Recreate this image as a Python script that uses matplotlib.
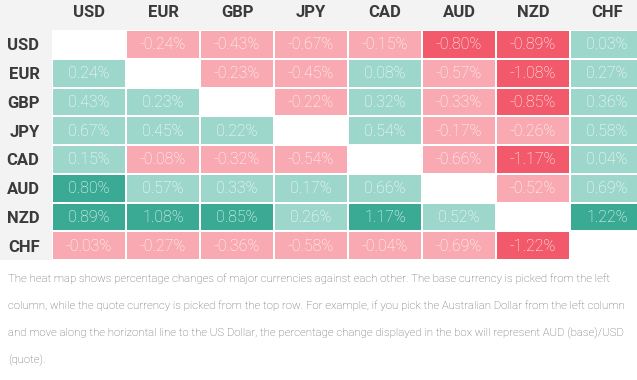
import numpy as np
import matplotlib
matplotlib.use("Agg")
import matplotlib.pyplot as plt
from matplotlib.colors import ListedColormap, BoundaryNorm
from matplotlib.patches import Rectangle

currencies = ["USD", "EUR", "GBP", "JPY", "CAD", "AUD", "NZD", "CHF"]

# base (rows) / quote (columns), % change
usd = [np.nan, -0.24, -0.43, -0.67, -0.15, -0.80, -0.89, 0.03]
eur = [0.24, np.nan, -0.23, -0.45, 0.08, -0.57, -1.08, 0.27]
gbp = [0.43, 0.23, np.nan, -0.22, 0.32, -0.33, -0.85, 0.36]
jpy = [0.67, 0.45, 0.22, np.nan, 0.54, -0.17, -0.26, 0.58]
cad = [0.15, -0.08, -0.32, -0.54, np.nan, -0.66, -1.17, 0.04]
aud = [0.80, 0.57, 0.33, 0.17, 0.66, np.nan, -0.52, 0.69]
nzd = [0.89, 1.08, 0.85, 0.26, 1.17, 0.52, np.nan, 1.22]
chf = [-0.03, -0.27, -0.36, -0.58, -0.04, -0.69, -1.22, np.nan]

caption = [
    "The heat map shows percentage changes of major currencies against each other. The base currency is picked from the left",
    "column, while the quote currency is picked from the top row. For example, if you pick the Australian Dollar from the left column",
    "and move along the horizontal line to the US Dollar, the percentage change displayed in the box will represent AUD (base)/USD",
    "(quote).",
]

data = np.array([usd, eur, gbp, jpy, cad, aud, nzd, chf])

W, H = 637, 380
fig = plt.figure(figsize=(W / 100, H / 100), dpi=100)
fig.patch.set_facecolor("white")

# gray header band + label column (figure pixel coords)
bg = "#f3f3f3"
fig.patches.append(Rectangle((0, 1 - 30 / H), 1, 30 / H, transform=fig.transFigure,
                             facecolor=bg, edgecolor="none", zorder=-5))
fig.patches.append(Rectangle((0, 1 - 260 / H), 52 / W, 230 / H, transform=fig.transFigure,
                             facecolor=bg, edgecolor="none", zorder=-5))

cw = 74
ax = fig.add_axes([52 / W, 1 - 260 / H, 8 * cw / W, 230 / H])
ax.set_facecolor("white")
ax.set_zorder(2)

cmap = ListedColormap(["#f25a6b", "#f8a9b1", "#9dd7cb", "#3aaa95"])
norm = BoundaryNorm([-10, -0.75, 0, 0.75, 10], cmap.N)
masked = np.ma.masked_invalid(data)
ax.pcolormesh(np.arange(9), np.arange(9), masked, cmap=cmap, norm=norm,
              edgecolors="white", linewidth=1.2)
ax.set_xlim(0, 8)
ax.set_ylim(8, 0)

for i in range(8):
    for j in range(8):
        v = data[i, j]
        if np.isnan(v):
            continue
        ax.text(j + 0.5, i + 0.52, f"{v:.2f}%", ha="center", va="center",
                color="white", fontsize=11.5, family="Roboto", fontweight="light")

ax.set_xticks(np.arange(8) + 0.5)
ax.set_yticks(np.arange(8) + 0.5)
ax.xaxis.tick_top()
ax.set_xticklabels(currencies, family="Roboto", fontweight="bold", fontsize=12, color="#3b3b3b")
ax.set_yticklabels(currencies, family="Roboto", fontweight="bold", fontsize=12, color="#3b3b3b")
ax.tick_params(length=0)
ax.tick_params(axis="x", pad=7)
ax.tick_params(axis="y", pad=9)
for s in ax.spines.values():
    s.set_visible(False)

for k, line in enumerate(caption):
    fig.text(8 / W, 1 - (279 + 27 * k) / H, line, ha="left", va="center",
             fontsize=8.2, family="Roboto", fontweight="light", color="#5e5e5e")

fig.savefig("out.png", dpi=100)
